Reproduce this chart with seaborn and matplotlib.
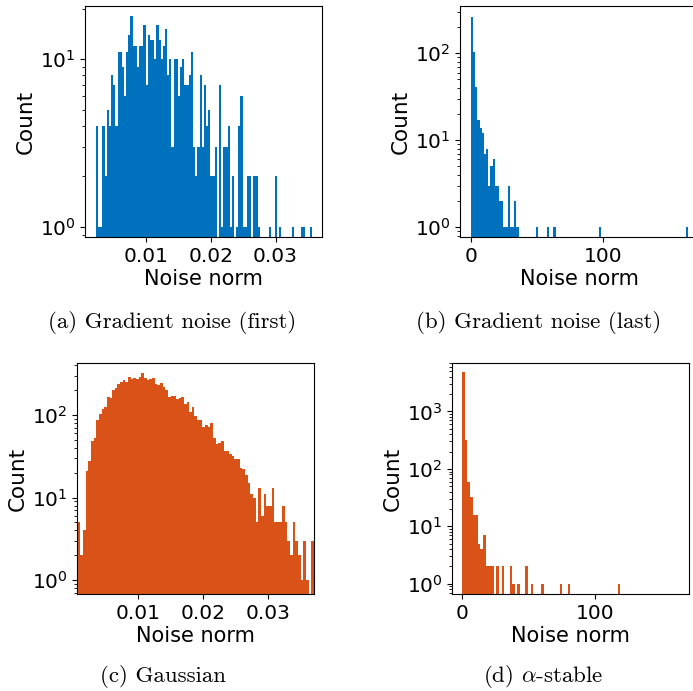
import numpy as np
import pandas as pd
import matplotlib
matplotlib.use("Agg")
import matplotlib.pyplot as plt
import seaborn as sns

# histogram counts (log-scaled y)
grad_first_counts = [4, 1, 1, 4, 2, 5, 4, 8, 7, 4, 11, 11, 9, 6, 11, 14, 18, 12, 12, 9,
                     12, 12, 16, 7, 14, 13, 13, 10, 16, 13, 10, 12, 15, 8, 10, 3, 10, 10, 6, 9,
                     10, 7, 7, 8, 11, 3, 2, 3, 8, 3, 7, 4, 5, 2, 2, 3, 0, 7, 1, 3,
                     3, 4, 1, 2, 0, 1, 4, 6, 1, 1, 2, 2, 0, 2, 2, 1, 0, 0, 0, 0,
                     1, 0, 0, 2, 0, 1, 0, 0, 0, 0, 0, 1, 0, 0, 0, 1, 1, 0, 0, 1]
grad_first_range = (0.0022, 0.0356)

grad_last_counts = [260, 103, 41, 17, 14, 12, 7, 8, 3, 5, 6, 3, 3, 2, 2, 1, 1, 3, 1, 1,
                    2, 1, 0, 0, 0, 0, 0, 0, 0, 0, 1, 0, 0, 0, 0, 1, 0, 0, 1, 0,
                    0, 0, 0, 0, 0, 0, 0, 0, 0, 0, 0, 0, 0, 0, 0, 0, 0, 0, 0, 1,
                    0, 0, 0, 0, 0, 0, 0, 0, 0, 0, 0, 0, 0, 0, 0, 0, 0, 0, 0, 0,
                    0, 0, 0, 0, 0, 0, 0, 0, 0, 0, 0, 0, 0, 0, 0, 0, 0, 0, 0, 1]
grad_last_range = (0.0, 164.0)

gauss_counts = [5, 2, 4, 21, 28, 48, 53, 87, 103, 118, 125, 165, 159, 201, 212, 238, 251, 266, 251, 289,
                276, 281, 276, 291, 323, 283, 268, 272, 281, 238, 233, 245, 220, 201, 167, 170, 170, 158, 163, 165,
                138, 144, 110, 125, 98, 87, 87, 72, 75, 72, 81, 52, 45, 46, 48, 37, 37, 34, 32, 29,
                29, 23, 22, 19, 15, 11, 10, 5, 13, 6, 11, 8, 8, 13, 5, 5, 5, 8, 5, 3,
                2, 5, 3, 2, 1, 3, 1, 0, 3]
gauss_range = (0.0008, 0.0370)

stable_counts = [4800, 322, 60, 33, 16, 16, 5, 4, 7, 2, 2, 2, 0, 2, 0, 2, 0, 0, 2, 1,
                 0, 1, 0, 0, 2, 0, 1, 0, 0, 0, 1, 0, 0, 0, 0, 0, 0, 1, 0, 0,
                 1, 0, 0, 0, 0, 0, 0, 0, 0, 0, 0, 0, 0, 0, 0, 0, 0, 0, 0, 1]
stable_range = (0.0, 118.8)

captions = ["(a) Gradient noise (first)", "(b) Gradient noise (last)",
            "(c) Gaussian", r"(d) $\alpha$-stable"]

blue = "#0072BD"
orange = "#D95319"

W, H = 693, 691
fig = plt.figure(figsize=(W / 100, H / 100), dpi=100)


def add_ax(left, right, top, bottom):
    return fig.add_axes([left / W, 1 - bottom / H, (right - left) / W, (bottom - top) / H])


def draw(ax, counts, rng, color, xlim, ylim, xticks):
    edges = np.linspace(rng[0], rng[1], len(counts) + 1)
    df = pd.DataFrame({"norm": (edges[:-1] + edges[1:]) / 2, "count": counts})
    sns.histplot(data=df, x="norm", weights="count", bins=list(edges), ax=ax,
                 color=color, alpha=1, linewidth=0)
    ax.set_yscale("log")
    ax.set_xlim(*xlim)
    ax.set_ylim(*ylim)
    ax.set_xticks(xticks)
    ax.set_xlabel("Noise norm", fontsize=15, labelpad=2)
    ax.set_ylabel("Count", fontsize=15.5, labelpad=3)
    ax.tick_params(labelsize=14.5)


ax_a = add_ax(85, 322, 6, 237)
draw(ax_a, grad_first_counts, grad_first_range, blue, (0.0005, 0.0372), (0.87, 20.7), [0.01, 0.02, 0.03])
ax_a.set_xticklabels(["0.01", "0.02", "0.03"])

ax_b = add_ax(460, 699, 6, 237)
draw(ax_b, grad_last_counts, grad_last_range, blue, (-8.2, 172.2), (0.77, 350), [0, 100])

ax_c = add_ax(77, 314, 363, 594)
draw(ax_c, gauss_counts, gauss_range, orange, (0.0007, 0.0370), (0.68, 427), [0.01, 0.02, 0.03])
ax_c.set_xticklabels(["0.01", "0.02", "0.03"])

ax_d = add_ax(452, 689, 363, 594)
draw(ax_d, stable_counts, stable_range, orange, (-7.5, 170.3), (0.66, 7000), [0, 100])

# sub-figure captions
cap_pos = [(172, 322), (539, 322), (163, 677), (543, 677)]
for (cx, cy), txt in zip(cap_pos, captions):
    fig.text(cx / W, 1 - cy / H, txt, ha="center", va="center", fontsize=16.5,
             family="cmr10", math_fontfamily="cm")

fig.savefig("out.png", dpi=100)
